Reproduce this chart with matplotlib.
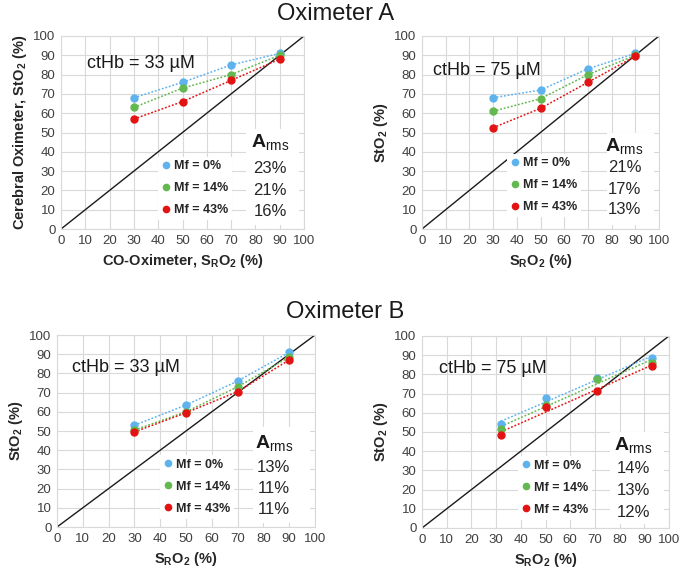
import matplotlib
matplotlib.use('Agg')
import matplotlib.pyplot as plt
import numpy as np
from matplotlib.lines import Line2D
from matplotlib.patches import Rectangle

plt.rcParams['font.family'] = ['Liberation Sans', 'DejaVu Sans']
plt.rcParams['mathtext.fontset'] = 'custom'
plt.rcParams['mathtext.rm'] = 'Liberation Sans'
plt.rcParams['mathtext.bf'] = 'Liberation Sans:bold'
plt.rcParams['mathtext.it'] = 'Liberation Sans:italic'

# ---------------- data ----------------
series_labels = ['Mf = 0%', 'Mf = 14%', 'Mf = 43%']
colors = ['#5EB3EE', '#63B84F', '#E31313']

x_A33 = [30, 50, 70, 90]
A33_mf0 = [68, 76, 85, 91]
A33_mf14 = [63, 73, 80, 90]
A33_mf43 = [57, 66, 77, 88]
A33_arms = ['23%', '21%', '16%']

x_A75 = [30, 50, 70, 90]
A75_mf0 = [68, 72, 83, 91]
A75_mf14 = [61, 67.5, 80, 90]
A75_mf43 = [52.5, 62.5, 76, 89.5]
A75_arms = ['21%', '17%', '13%']

x_B33 = [30, 50, 70, 90]
B33_mf0 = [53, 63.5, 76, 91]
B33_mf14 = [50.5, 60, 73, 88.5]
B33_mf43 = [49.5, 59.5, 70.5, 87]
B33_arms = ['13%', '11%', '11%']

x_B75 = [32, 50, 71, 93]
B75_mf0 = [54, 67.5, 78, 88.5]
B75_mf14 = [51.5, 64, 77.5, 86]
B75_mf43 = [48.5, 63, 71.5, 84.5]
B75_arms = ['14%', '13%', '12%']

ticks = list(range(0, 101, 10))

W, H = 682, 587
fig = plt.figure(figsize=(W / 100, H / 100), dpi=100)


def px_axes(l, r, t, b):
    return fig.add_axes([l / W, 1 - b / H, (r - l) / W, (b - t) / H])


panels = [
    dict(rect=(61, 304, 36, 229), x=x_A33, ys=[A33_mf0, A33_mf14, A33_mf43], arms=A33_arms,
         hb='ctHb = 33 µM', hbpos=(10.5, 85.5),
         ylabel=r'Cerebral Oximeter, St$\mathbf{O_2}$ (%)',
         xlabel=r'CO-Oximeter, $\mathbf{S_RO_2}$ (%)', fit='line',
         leg=(40, 37.5), armsx=86, armsy=[31.5, 20, 9], armshead=45, box=(76, 2, 22, 50)),
    dict(rect=(422, 659, 36, 229), x=x_A75, ys=[A75_mf0, A75_mf14, A75_mf43],
         arms=A75_arms, hb='ctHb = 75 µM', hbpos=(4.5, 82),
         ylabel=r'St$\mathbf{O_2}$ (%)', xlabel=r'$\mathbf{S_RO_2}$ (%)', fit='line',
         leg=(36, 39), armsx=85.5, armsy=[32, 20.5, 10], armshead=43, box=(78, 2, 20, 48)),
    dict(rect=(57, 315, 335, 527), x=x_B33, ys=[B33_mf0, B33_mf14, B33_mf43], arms=B33_arms,
         hb='ctHb = 33 µM', hbpos=(6, 83),
         ylabel=r'St$\mathbf{O_2}$ (%)', xlabel=r'$\mathbf{S_RO_2}$ (%)', fit='line',
         leg=(40, 37.5), armsx=84, armsy=[31, 20, 9], armshead=44, box=(76, 2, 22, 50)),
    dict(rect=(422, 669, 336, 528), x=x_B75, ys=[B75_mf0, B75_mf14, B75_mf43], arms=B75_arms,
         hb='ctHb = 75 µM', hbpos=(7, 83),
         ylabel=r'St$\mathbf{O_2}$ (%)', xlabel=r'$\mathbf{S_RO_2}$ (%)', fit='linear',
         leg=(39, 37.5), armsx=85.5, armsy=[31, 19.5, 8], armshead=43, box=(76, 2, 22, 48)),
]

for p in panels:
    ax = px_axes(*p['rect'])
    ax.set_xlim(0, 100)
    ax.set_ylim(0, 100)
    ax.set_xticks(ticks)
    ax.set_yticks(ticks)
    ax.grid(True, color='#D9D9D9', linewidth=0.8, zorder=0)
    ax.set_axisbelow(True)
    for s in ax.spines.values():
        s.set_color('#D9D9D9')
        s.set_linewidth(0.8)
    ax.tick_params(length=0, labelsize=9.5, colors='#404040', pad=4)
    ax.set_xlabel(p['xlabel'], fontsize=10.5, fontweight='bold', color='#262626', labelpad=4)
    ax.set_ylabel(p['ylabel'], fontsize=10.5, fontweight='bold', color='#262626', labelpad=3)

    # white box behind A_rms column
    bx, by, bw, bh = p['box']
    ax.add_patch(Rectangle((bx, by), bw, bh, facecolor='white', edgecolor='none', zorder=1))

    # identity line
    ax.plot(ticks, ticks, color='#1a1a1a', linewidth=1.0, zorder=2)

    handles = []
    for ys, c, lab in zip(p['ys'], colors, series_labels):
        xs = np.array(p['x'], dtype=float)
        yv = np.array(ys, dtype=float)
        if p['fit'] == 'linear':
            k, b0 = np.polyfit(xs, yv, 1)
            ax.plot(xs, k * xs + b0, linestyle=(0, (1.2, 1.2)), color=c, linewidth=1.1, zorder=3)
        else:
            ax.plot(xs, yv, linestyle=(0, (1.2, 1.2)), color=c, linewidth=1.1, zorder=3)
        ax.plot(xs, yv, 'o', color=c, markersize=5, zorder=4)
        handles.append(Line2D([], [], marker='o', color=c, linestyle='none', markersize=4.5))

    leg = ax.legend(handles, series_labels, loc='upper left', bbox_to_anchor=p['leg'],
                    bbox_transform=ax.transData, frameon=True, fancybox=False,
                    prop=dict(weight='bold', size=9), handlelength=0.6, handletextpad=0.35,
                    labelspacing=0.8, borderpad=0.3, borderaxespad=0)
    leg.get_frame().set_facecolor('white')
    leg.get_frame().set_edgecolor('none')
    leg.get_frame().set_alpha(1)
    for t in leg.get_texts():
        t.set_color('#262626')

    ax.text(p['armsx'], p['armshead'], r'$\mathbf{A}_{\mathrm{rms}}$', fontsize=14,
            ha='center', va='center', color='#1a1a1a', zorder=6)
    for yy, txt in zip(p['armsy'], p['arms']):
        ax.text(p['armsx'], yy, txt, fontsize=12, ha='center', va='center', color='#262626', zorder=6)

    ax.text(p['hbpos'][0], p['hbpos'][1], p['hb'], fontsize=13, ha='left', va='center',
            color='#1a1a1a', zorder=6)

fig.text(336 / W, 1 - 14 / H, 'Oximeter A', fontsize=17, ha='center', va='center', color='#1a1a1a')
fig.text(345 / W, 1 - 312 / H, 'Oximeter B', fontsize=17, ha='center', va='center', color='#1a1a1a')

fig.savefig('out.png', dpi=100)
